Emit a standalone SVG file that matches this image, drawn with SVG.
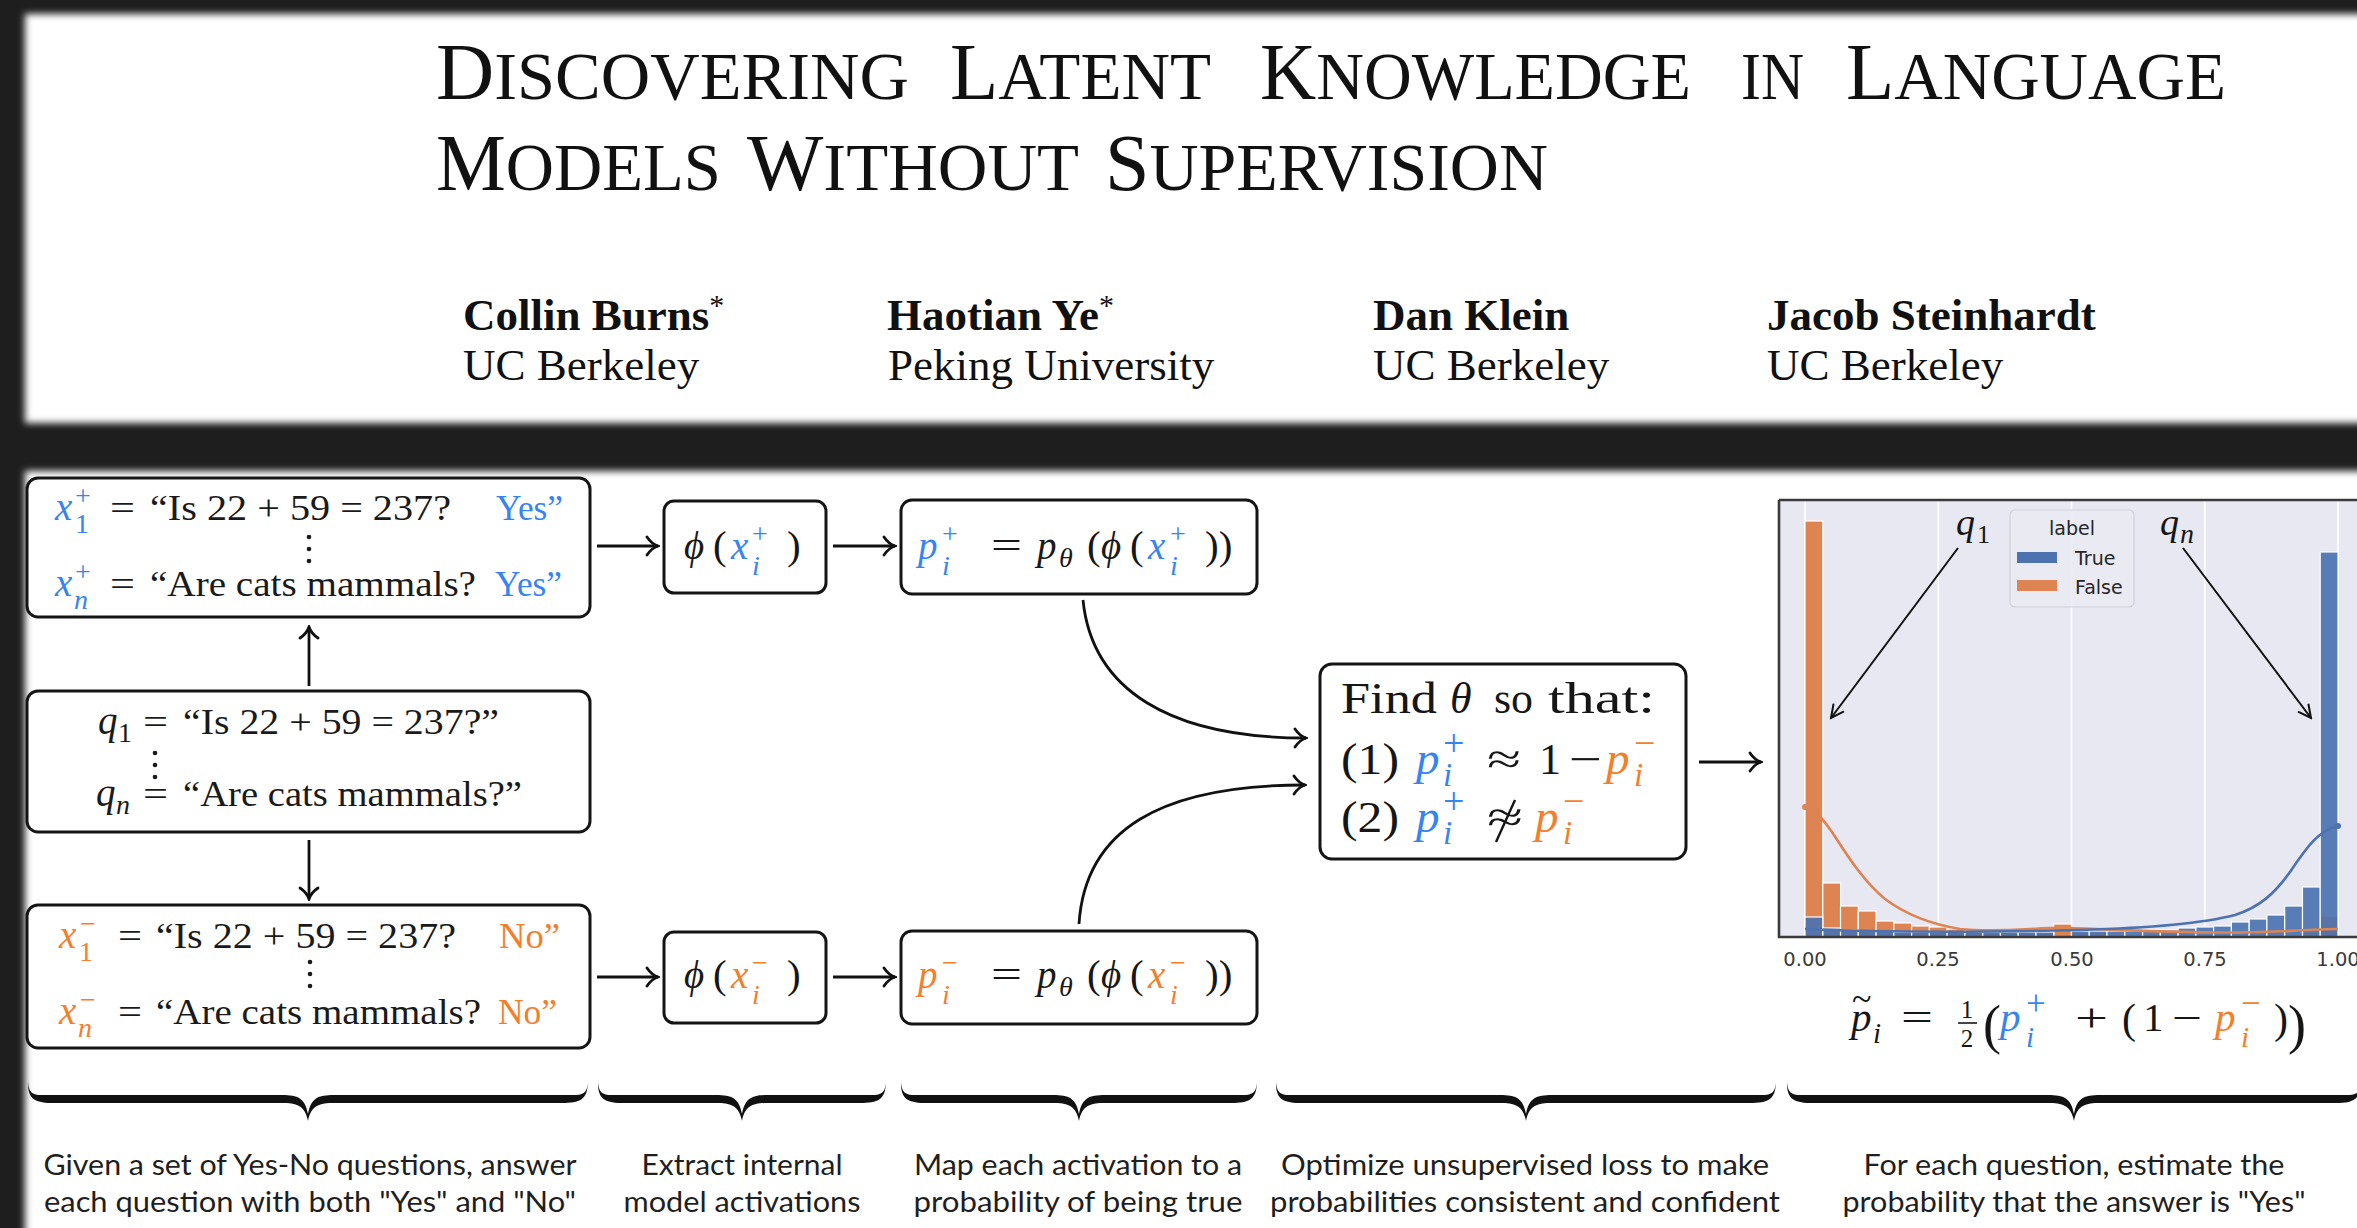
<svg xmlns="http://www.w3.org/2000/svg" width="2357" height="1228" viewBox="0 0 2357 1228">
<defs>
<style>
.ser{font-family:"Liberation Serif","DejaVu Serif",serif;fill:#161616}
.ttl{font-family:"Liberation Serif","DejaVu Serif",serif;fill:#111}
.au{font-family:"Liberation Serif","DejaVu Serif",serif;font-size:45px;fill:#111}
.tx{font-family:"Liberation Serif","DejaVu Serif",serif;font-size:35px;fill:#1a1a1a}
.mv{font-family:"Liberation Serif","DejaVu Serif",serif;font-size:39px;font-style:italic;fill:#1a1a1a}
.sc{font-family:"Liberation Serif","DejaVu Serif",serif;font-size:28px;fill:#1a1a1a}
.sci{font-family:"Liberation Serif","DejaVu Serif",serif;font-size:28px;font-style:italic;fill:#1a1a1a}
.b{fill:#3684f0}
.o{fill:#f57e2a}
.box{fill:#fff;stroke:#151515;stroke-width:3}
.ar{fill:none;stroke:#111;stroke-width:2.8}
.cap{font-family:Lato,"Liberation Sans",sans-serif;font-size:28px;fill:#1f1f1f;text-anchor:middle}
.tick{font-family:"DejaVu Sans",sans-serif;font-size:19.5px;fill:#3a3a3a;text-anchor:middle}
.lg{font-family:"DejaVu Sans",sans-serif;font-size:19px;fill:#262626}
.brace{fill:#111}
.ob{fill:#dd8452;stroke:#fff;stroke-width:1.2}
.bb{fill:#4c72b0;fill-opacity:0.92;stroke:#fff;stroke-width:1.2}
.grid{stroke:#fff;stroke-width:1.6}
.dot{fill:#1a1a1a}
</style>
<filter id="soft" x="-2%" y="-5%" width="104%" height="110%"><feGaussianBlur stdDeviation="3.5"/></filter>
<marker id="ah" viewBox="-14 -11 16 22" refX="0" refY="0" markerWidth="16" markerHeight="22" orient="auto" markerUnits="userSpaceOnUse">
<path d="M-11,-9 C-7,-3 -3,-1 0,0 C-3,1 -7,3 -11,9" fill="none" stroke="#111" stroke-width="2.8" stroke-linecap="round"/>
</marker>
<marker id="ah2" viewBox="-16 -9 18 18" refX="0" refY="0" markerWidth="18" markerHeight="18" orient="auto" markerUnits="userSpaceOnUse">
<path d="M-13,-6.5 L0,0 L-13,6.5" fill="none" stroke="#111" stroke-width="2"/>
</marker>
</defs>

<rect x="0" y="0" width="2357" height="1228" fill="#1e1e1e"/>
<rect x="25" y="14" width="2420" height="409" fill="#fff" filter="url(#soft)"/>
<rect x="25" y="471" width="2420" height="800" fill="#fff" filter="url(#soft)"/>

<g id="title">
<text class="ttl" x="436" y="99" textLength="473" lengthAdjust="spacingAndGlyphs"><tspan font-size="80">D</tspan><tspan font-size="68">ISCOVERING</tspan></text>
<text class="ttl" x="950" y="99" textLength="261" lengthAdjust="spacingAndGlyphs"><tspan font-size="80">L</tspan><tspan font-size="68">ATENT</tspan></text>
<text class="ttl" x="1260" y="99" textLength="431" lengthAdjust="spacingAndGlyphs"><tspan font-size="80">K</tspan><tspan font-size="68">NOWLEDGE</tspan></text>
<text class="ttl" x="1741" y="99" textLength="63" lengthAdjust="spacingAndGlyphs"><tspan font-size="68">IN</tspan></text>
<text class="ttl" x="1846" y="99" textLength="380" lengthAdjust="spacingAndGlyphs"><tspan font-size="80">L</tspan><tspan font-size="68">ANGUAGE</tspan></text>
<text class="ttl" x="436" y="190" textLength="285" lengthAdjust="spacingAndGlyphs"><tspan font-size="80">M</tspan><tspan font-size="68">ODELS</tspan></text>
<text class="ttl" x="747" y="190" textLength="332" lengthAdjust="spacingAndGlyphs"><tspan font-size="80">W</tspan><tspan font-size="68">ITHOUT</tspan></text>
<text class="ttl" x="1105" y="190" textLength="443" lengthAdjust="spacingAndGlyphs"><tspan font-size="80">S</tspan><tspan font-size="68">UPERVISION</tspan></text>
</g>

<g id="authors">
<text class="au" x="463" y="330" font-weight="bold">Collin Burns<tspan font-weight="normal" font-size="30" dy="-15">*</tspan></text>
<text class="au" x="463" y="380">UC Berkeley</text>
<text class="au" x="887" y="330" font-weight="bold">Haotian Ye<tspan font-weight="normal" font-size="30" dy="-15">*</tspan></text>
<text class="au" x="888" y="380">Peking University</text>
<text class="au" x="1373" y="330" font-weight="bold">Dan Klein</text>
<text class="au" x="1373" y="380">UC Berkeley</text>
<text class="au" x="1767" y="330" font-weight="bold">Jacob Steinhardt</text>
<text class="au" x="1767" y="380">UC Berkeley</text>
</g>

<g id="box-pos-prompts">
<rect class="box" x="27" y="478" width="563" height="139" rx="11"/>
<text class="mv b" x="55" y="520">x</text>
<text class="sc b" x="75" y="505">+</text>
<text class="sc b" x="75" y="533">1</text>
<text class="tx" x="110" y="520" textLength="25" lengthAdjust="spacingAndGlyphs">=</text>
<text class="tx" x="150" y="520" textLength="301" lengthAdjust="spacingAndGlyphs">“Is 22 + 59 = 237?</text>
<text class="tx b" x="496" y="520" textLength="67" lengthAdjust="spacingAndGlyphs">Yes”</text>
<circle class="dot" cx="309" cy="537" r="2.3"/><circle class="dot" cx="309" cy="549" r="2.3"/><circle class="dot" cx="309" cy="561" r="2.3"/>
<text class="mv b" x="55" y="596">x</text>
<text class="sc b" x="75" y="581">+</text>
<text class="sci b" x="74" y="609">n</text>
<text class="tx" x="110" y="596" textLength="25" lengthAdjust="spacingAndGlyphs">=</text>
<text class="tx" x="150" y="596" textLength="326" lengthAdjust="spacingAndGlyphs">“Are cats mammals?</text>
<text class="tx b" x="495" y="596" textLength="67" lengthAdjust="spacingAndGlyphs">Yes”</text>
</g>

<g id="box-questions">
<rect class="box" x="27" y="691" width="563" height="141" rx="11"/>
<text class="mv" x="98" y="734">q</text>
<text class="sc" x="118" y="742" font-size="26">1</text>
<text class="tx" x="143" y="734" textLength="25" lengthAdjust="spacingAndGlyphs">=</text>
<text class="tx" x="183" y="734" textLength="316" lengthAdjust="spacingAndGlyphs">“Is 22 + 59 = 237?”</text>
<circle class="dot" cx="155" cy="753" r="2.3"/><circle class="dot" cx="155" cy="765" r="2.3"/><circle class="dot" cx="155" cy="777" r="2.3"/>
<text class="mv" x="96" y="806">q</text>
<text class="sci" x="116" y="814" font-size="26">n</text>
<text class="tx" x="143" y="806" textLength="25" lengthAdjust="spacingAndGlyphs">=</text>
<text class="tx" x="183" y="806" textLength="339" lengthAdjust="spacingAndGlyphs">“Are cats mammals?”</text>
</g>

<g id="box-neg-prompts">
<rect class="box" x="27" y="905" width="563" height="143" rx="11"/>
<text class="mv o" x="59" y="948">x</text>
<text class="sc o" x="80" y="933">−</text>
<text class="sc o" x="79" y="961">1</text>
<text class="tx" x="118" y="948" textLength="24" lengthAdjust="spacingAndGlyphs">=</text>
<text class="tx" x="156" y="948" textLength="300" lengthAdjust="spacingAndGlyphs">“Is 22 + 59 = 237?</text>
<text class="tx o" x="499" y="948" textLength="61" lengthAdjust="spacingAndGlyphs">No”</text>
<circle class="dot" cx="310" cy="962" r="2.3"/><circle class="dot" cx="310" cy="974" r="2.3"/><circle class="dot" cx="310" cy="986" r="2.3"/>
<text class="mv o" x="59" y="1024">x</text>
<text class="sc o" x="80" y="1009">−</text>
<text class="sci o" x="78" y="1037">n</text>
<text class="tx" x="118" y="1024" textLength="24" lengthAdjust="spacingAndGlyphs">=</text>
<text class="tx" x="156" y="1024" textLength="325" lengthAdjust="spacingAndGlyphs">“Are cats mammals?</text>
<text class="tx o" x="498" y="1024" textLength="59" lengthAdjust="spacingAndGlyphs">No”</text>
</g>

<g id="phi-pos">
<rect class="box" x="664" y="501" width="162" height="92" rx="10"/>
<text class="mv" x="684" y="559" font-size="41">ϕ</text>
<text class="ser" x="713" y="559" font-size="41">(</text>
<text class="mv b" x="731" y="559" font-size="41">x</text>
<text class="sc b" x="752" y="543" font-size="34">+</text>
<text class="sci b" x="752" y="575" font-size="30">i</text>
<text class="ser" x="787" y="559" font-size="41">)</text>
</g>

<g id="phi-neg">
<rect class="box" x="664" y="932" width="162" height="91" rx="10"/>
<text class="mv" x="684" y="988" font-size="41">ϕ</text>
<text class="ser" x="713" y="988" font-size="41">(</text>
<text class="mv o" x="731" y="988" font-size="41">x</text>
<text class="sc o" x="752" y="972" font-size="34">−</text>
<text class="sci o" x="752" y="1004" font-size="30">i</text>
<text class="ser" x="787" y="988" font-size="41">)</text>
</g>

<g id="p-pos">
<rect class="box" x="901" y="500" width="356" height="94" rx="11"/>
<text class="mv b" x="918" y="559" font-size="41">p</text>
<text class="sc b" x="942" y="543" font-size="34">+</text>
<text class="sci b" x="942" y="575" font-size="30">i</text>
<text class="ser" x="991" y="559" font-size="39" textLength="31" lengthAdjust="spacingAndGlyphs">=</text>
<text class="mv" x="1037" y="559" font-size="41">p</text>
<text class="sci" x="1059" y="567" font-size="25">θ</text>
<text class="ser" x="1087" y="559" font-size="41">(</text>
<text class="mv" x="1101" y="559" font-size="41">ϕ</text>
<text class="ser" x="1130" y="559" font-size="41">(</text>
<text class="mv b" x="1148" y="559" font-size="41">x</text>
<text class="sc b" x="1170" y="543" font-size="34">+</text>
<text class="sci b" x="1170" y="575" font-size="30">i</text>
<text class="ser" x="1205" y="559" font-size="41">))</text>
</g>

<g id="p-neg">
<rect class="box" x="901" y="931" width="356" height="93" rx="11"/>
<text class="mv o" x="918" y="988" font-size="41">p</text>
<text class="sc o" x="942" y="972" font-size="34">−</text>
<text class="sci o" x="942" y="1004" font-size="30">i</text>
<text class="ser" x="991" y="988" font-size="39" textLength="31" lengthAdjust="spacingAndGlyphs">=</text>
<text class="mv" x="1037" y="988" font-size="41">p</text>
<text class="sci" x="1059" y="996" font-size="25">θ</text>
<text class="ser" x="1087" y="988" font-size="41">(</text>
<text class="mv" x="1101" y="988" font-size="41">ϕ</text>
<text class="ser" x="1130" y="988" font-size="41">(</text>
<text class="mv o" x="1148" y="988" font-size="41">x</text>
<text class="sc o" x="1170" y="972" font-size="34">−</text>
<text class="sci o" x="1170" y="1004" font-size="30">i</text>
<text class="ser" x="1205" y="988" font-size="41">))</text>
</g>

<g id="objective">
<rect class="box" x="1320" y="664" width="366" height="195" rx="12"/>
<text class="ser" x="1341" y="713" font-size="44" textLength="96" lengthAdjust="spacingAndGlyphs">Find</text>
<text class="ser" x="1450" y="713" font-size="44" font-style="italic">θ</text>
<text class="ser" x="1494" y="713" font-size="44" textLength="39" lengthAdjust="spacingAndGlyphs">so</text>
<text class="ser" x="1548" y="713" font-size="44" textLength="107" lengthAdjust="spacingAndGlyphs">that:</text>
<text class="ser" x="1341" y="774" font-size="44" textLength="58" lengthAdjust="spacingAndGlyphs">(1)</text>
<text class="ser b" x="1416" y="774" font-size="47" font-style="italic">p</text>
<text class="ser b" x="1443" y="756" font-size="38">+</text>
<text class="ser b" x="1443" y="786" font-size="33" font-style="italic">i</text>
<text class="ser" x="1487" y="774" font-size="44" textLength="34" lengthAdjust="spacingAndGlyphs">≈</text>
<text class="ser" x="1539" y="774" font-size="44">1</text>
<text class="ser" x="1569" y="774" font-size="44" textLength="33" lengthAdjust="spacingAndGlyphs">−</text>
<text class="ser o" x="1606" y="774" font-size="47" font-style="italic">p</text>
<text class="ser o" x="1634" y="756" font-size="38">−</text>
<text class="ser o" x="1634" y="786" font-size="33" font-style="italic">i</text>
<text class="ser" x="1341" y="832" font-size="44" textLength="58" lengthAdjust="spacingAndGlyphs">(2)</text>
<text class="ser b" x="1416" y="832" font-size="47" font-style="italic">p</text>
<text class="ser b" x="1443" y="814" font-size="38">+</text>
<text class="ser b" x="1443" y="844" font-size="33" font-style="italic">i</text>
<text class="ser" x="1487" y="832" font-size="44" textLength="36" lengthAdjust="spacingAndGlyphs">≈</text>
<line x1="1496" y1="842" x2="1515" y2="800" stroke="#161616" stroke-width="2.4"/>
<text class="ser o" x="1535" y="832" font-size="47" font-style="italic">p</text>
<text class="ser o" x="1563" y="814" font-size="38">−</text>
<text class="ser o" x="1563" y="844" font-size="33" font-style="italic">i</text>
</g>

<g id="chart">
<rect x="1779" y="500" width="600" height="437" fill="#e7e8f1"/>
<line class="grid" x1="1805" y1="501" x2="1805" y2="936"/>
<line class="grid" x1="1938.3" y1="501" x2="1938.3" y2="936"/>
<line class="grid" x1="2071.5" y1="501" x2="2071.5" y2="936"/>
<line class="grid" x1="2204.8" y1="501" x2="2204.8" y2="936"/>
<line class="grid" x1="2338" y1="501" x2="2338" y2="936"/>
<g id="bars-false">
<rect class="ob" x="1805" y="521" width="17.8" height="416"/>
<rect class="ob" x="1822.8" y="883" width="17.8" height="54"/>
<rect class="ob" x="1840.5" y="906" width="17.8" height="31"/>
<rect class="ob" x="1858.3" y="911" width="17.8" height="26"/>
<rect class="ob" x="1876.1" y="921" width="17.8" height="16"/>
<rect class="ob" x="1893.8" y="923" width="17.8" height="14"/>
<rect class="ob" x="1911.6" y="926" width="17.8" height="11"/>
<rect class="ob" x="1929.4" y="927" width="17.8" height="10"/>
<rect class="ob" x="1947.1" y="929" width="17.8" height="8"/>
<rect class="ob" x="1964.9" y="930" width="17.8" height="7"/>
<rect class="ob" x="1982.7" y="931" width="17.8" height="6"/>
<rect class="ob" x="2000.4" y="931" width="17.8" height="6"/>
<rect class="ob" x="2018.2" y="932" width="17.8" height="5"/>
<rect class="ob" x="2036.0" y="932" width="17.8" height="5"/>
<rect class="ob" x="2053.7" y="924" width="17.8" height="13"/>
<rect class="ob" x="2071.5" y="932" width="17.8" height="5"/>
<rect class="ob" x="2089.3" y="932" width="17.8" height="5"/>
<rect class="ob" x="2302.5" y="932" width="17.8" height="5"/>
<rect class="ob" x="2320.2" y="916" width="17.8" height="21"/>
</g>
<g id="bars-true">
<rect class="bb" x="1805" y="917" width="17.8" height="20"/>
<rect class="bb" x="1822.8" y="928" width="17.8" height="9"/>
<rect class="bb" x="1840.5" y="930" width="17.8" height="7"/>
<rect class="bb" x="1858.3" y="931" width="17.8" height="6"/>
<rect class="bb" x="1876.1" y="931" width="17.8" height="6"/>
<rect class="bb" x="1893.8" y="932" width="17.8" height="5"/>
<rect class="bb" x="1911.6" y="932" width="17.8" height="5"/>
<rect class="bb" x="1929.4" y="932" width="17.8" height="5"/>
<rect class="bb" x="1947.1" y="932" width="17.8" height="5"/>
<rect class="bb" x="1964.9" y="932" width="17.8" height="5"/>
<rect class="bb" x="1982.7" y="932" width="17.8" height="5"/>
<rect class="bb" x="2000.4" y="932" width="17.8" height="5"/>
<rect class="bb" x="2018.2" y="932" width="17.8" height="5"/>
<rect class="bb" x="2036.0" y="932" width="17.8" height="5"/>
<rect class="bb" x="2071.5" y="931" width="17.8" height="6"/>
<rect class="bb" x="2089.3" y="931" width="17.8" height="6"/>
<rect class="bb" x="2107.0" y="931" width="17.8" height="6"/>
<rect class="bb" x="2124.8" y="931" width="17.8" height="6"/>
<rect class="bb" x="2142.6" y="930" width="17.8" height="7"/>
<rect class="bb" x="2160.3" y="930" width="17.8" height="7"/>
<rect class="bb" x="2178.1" y="928" width="17.8" height="9"/>
<rect class="bb" x="2195.9" y="927" width="17.8" height="10"/>
<rect class="bb" x="2213.6" y="926" width="17.8" height="11"/>
<rect class="bb" x="2231.4" y="922" width="17.8" height="15"/>
<rect class="bb" x="2249.2" y="919" width="17.8" height="18"/>
<rect class="bb" x="2266.9" y="915" width="17.8" height="22"/>
<rect class="bb" x="2284.7" y="906" width="17.8" height="31"/>
<rect class="bb" x="2302.5" y="887" width="17.8" height="50"/>
<rect class="bb" x="2320.2" y="552" width="17.8" height="385"/>
</g>
<path d="M1805,807 C1815,809 1822,818 1832,832 C1845,852 1862,880 1885,899 C1905,914 1930,924 1960,929 C2000,933 2040,927 2070,928 C2120,930 2200,934 2260,932 C2300,931 2320,929 2338,929" fill="none" stroke="#dd8452" stroke-width="2.6"/>
<path d="M1805,929 C1900,933 2000,932 2080,930 C2150,928 2200,924 2235,915 C2260,907 2275,893 2290,872 C2305,850 2318,830 2338,826" fill="none" stroke="#4c72b0" stroke-width="2.6"/>
<circle cx="1805" cy="807" r="3" fill="#dd8452"/>
<circle cx="2338" cy="826" r="3" fill="#4c72b0"/>
<path d="M1779,500 H2380 M1779,500 V937 H2380" fill="none" stroke="#3a3a3a" stroke-width="2.6"/>
<g id="legend">
<rect x="2010" y="510" width="124" height="97" rx="5" fill="#eaeaf2" fill-opacity="0.85" stroke="#cfd0d8" stroke-width="1.2"/>
<text class="lg" x="2072" y="535" text-anchor="middle">label</text>
<rect x="2017" y="552" width="40" height="11" fill="#4c72b0"/>
<text class="lg" x="2075" y="565">True</text>
<rect x="2017" y="580" width="40" height="11" fill="#dd8452"/>
<text class="lg" x="2075" y="594">False</text>
</g>
<text class="ser" x="1956" y="535" font-size="38" font-style="italic">q</text>
<text class="ser" x="1977" y="543" font-size="26">1</text>
<text class="ser" x="2160" y="535" font-size="38" font-style="italic">q</text>
<text class="ser" x="2180" y="543" font-size="28" font-style="italic">n</text>
<line x1="1958" y1="548" x2="1831" y2="718" stroke="#111" stroke-width="2" marker-end="url(#ah2)"/>
<line x1="2183" y1="548" x2="2311" y2="718" stroke="#111" stroke-width="2" marker-end="url(#ah2)"/>
<text class="tick" x="1805" y="966">0.00</text>
<text class="tick" x="1938" y="966">0.25</text>
<text class="tick" x="2072" y="966">0.50</text>
<text class="tick" x="2205" y="966">0.75</text>
<text class="tick" x="2338" y="966">1.00</text>
</g>

<g id="formula">
<text class="ser" x="1851" y="1031" font-size="41" font-style="italic">p</text>
<text class="ser" x="1852" y="1011" font-size="36">~</text>
<text class="ser" x="1873" y="1043" font-size="29" font-style="italic">i</text>
<text class="ser" x="1901" y="1031" font-size="39" textLength="32" lengthAdjust="spacingAndGlyphs">=</text>
<text class="ser" x="1967" y="1018" font-size="25" text-anchor="middle">1</text>
<line x1="1958" y1="1023" x2="1977" y2="1023" stroke="#161616" stroke-width="1.6"/>
<text class="ser" x="1967" y="1047" font-size="25" text-anchor="middle">2</text>
<text class="ser" x="1983" y="1043" font-size="54">(</text>
<text class="ser b" x="2000" y="1031" font-size="41" font-style="italic">p</text>
<text class="ser b" x="2026" y="1015" font-size="35">+</text>
<text class="ser b" x="2026" y="1047" font-size="29" font-style="italic">i</text>
<text class="ser" x="2075" y="1031" font-size="39" textLength="33" lengthAdjust="spacingAndGlyphs">+</text>
<text class="ser" x="2122" y="1033" font-size="42">(</text>
<text class="ser" x="2143" y="1031" font-size="41">1</text>
<text class="ser" x="2172" y="1031" font-size="39" textLength="30" lengthAdjust="spacingAndGlyphs">−</text>
<text class="ser o" x="2215" y="1031" font-size="41" font-style="italic">p</text>
<text class="ser o" x="2241" y="1015" font-size="35">−</text>
<text class="ser o" x="2241" y="1047" font-size="29" font-style="italic">i</text>
<text class="ser" x="2274" y="1033" font-size="42">)</text>
<text class="ser" x="2288" y="1043" font-size="54">)</text>
</g>

<g id="connectors">
<line class="ar" x1="597" y1="546" x2="658" y2="546" marker-end="url(#ah)"/>
<line class="ar" x1="833" y1="546" x2="895" y2="546" marker-end="url(#ah)"/>
<line class="ar" x1="597" y1="977" x2="658" y2="977" marker-end="url(#ah)"/>
<line class="ar" x1="833" y1="977" x2="895" y2="977" marker-end="url(#ah)"/>
<line class="ar" x1="309" y1="686" x2="309" y2="627" marker-end="url(#ah)"/>
<line class="ar" x1="309" y1="840" x2="309" y2="899" marker-end="url(#ah)"/>
<path class="ar" d="M1083,600 C1092,690 1170,738 1306,738" marker-end="url(#ah)"/>
<path class="ar" d="M1079,924 C1085,830 1160,785 1305,785" marker-end="url(#ah)"/>
<line class="ar" x1="1699" y1="762" x2="1761" y2="762" marker-end="url(#ah)"/>
</g>

<g id="braces">
<path class="brace" d="M28,1082 C29,1097 36,1095 54,1095 L282,1095 C298,1095 305,1098 308,1114 C311,1098 318,1095 334,1095 L562,1095 C580,1095 587,1097 588,1082 C587.5,1100 580,1103 562,1103 L334,1103 C320,1103 311,1105 308,1121 C305,1105 296,1103 282,1103 L54,1103 C36,1103 27.5,1100 28,1082 Z"/>
<path class="brace" d="M598,1082 C599,1097 606,1095 624,1095 L716,1095 C732,1095 739,1098 742,1114 C745,1098 752,1095 768,1095 L860,1095 C878,1095 885,1097 886,1082 C885.5,1100 878,1103 860,1103 L768,1103 C754,1103 745,1105 742,1121 C739,1105 730,1103 716,1103 L624,1103 C606,1103 597.5,1100 598,1082 Z"/>
<path class="brace" d="M901,1082 C902,1097 909,1095 927,1095 L1053,1095 C1069,1095 1076,1098 1079,1114 C1082,1098 1089,1095 1105,1095 L1231,1095 C1249,1095 1256,1097 1257,1082 C1256.5,1100 1249,1103 1231,1103 L1105,1103 C1091,1103 1082,1105 1079,1121 C1076,1105 1067,1103 1053,1103 L927,1103 C909,1103 900.5,1100 901,1082 Z"/>
<path class="brace" d="M1276,1082 C1277,1097 1284,1095 1302,1095 L1500,1095 C1516,1095 1523,1098 1526,1114 C1529,1098 1536,1095 1552,1095 L1750,1095 C1768,1095 1775,1097 1776,1082 C1775.5,1100 1768,1103 1750,1103 L1552,1103 C1538,1103 1529,1105 1526,1121 C1523,1105 1514,1103 1500,1103 L1302,1103 C1284,1103 1275.5,1100 1276,1082 Z"/>
<path class="brace" d="M1787,1082 C1788,1097 1795,1095 1813,1095 L2048,1095 C2064,1095 2071,1098 2074,1114 C2077,1098 2084,1095 2100,1095 L2335,1095 C2353,1095 2360,1097 2361,1082 C2360.5,1100 2353,1103 2335,1103 L2100,1103 C2086,1103 2077,1105 2074,1121 C2071,1105 2062,1103 2048,1103 L1813,1103 C1795,1103 1786.5,1100 1787,1082 Z"/>
</g>

<g id="captions">
<text class="cap" x="310" y="1175" textLength="533" lengthAdjust="spacingAndGlyphs">Given a set of Yes-No questions, answer</text>
<text class="cap" x="310" y="1212" textLength="532" lengthAdjust="spacingAndGlyphs">each question with both "Yes" and "No"</text>
<text class="cap" x="742" y="1175" textLength="201" lengthAdjust="spacingAndGlyphs">Extract internal</text>
<text class="cap" x="742" y="1212" textLength="237" lengthAdjust="spacingAndGlyphs">model activations</text>
<text class="cap" x="1078" y="1175" textLength="328" lengthAdjust="spacingAndGlyphs">Map each activation to a</text>
<text class="cap" x="1078" y="1212" textLength="329" lengthAdjust="spacingAndGlyphs">probability of being true</text>
<text class="cap" x="1525" y="1175" textLength="488" lengthAdjust="spacingAndGlyphs">Optimize unsupervised loss to make</text>
<text class="cap" x="1525" y="1212" textLength="510" lengthAdjust="spacingAndGlyphs">probabilities consistent and confident</text>
<text class="cap" x="2074" y="1175" textLength="421" lengthAdjust="spacingAndGlyphs">For each question, estimate the</text>
<text class="cap" x="2074" y="1212" textLength="463" lengthAdjust="spacingAndGlyphs">probability that the answer is "Yes"</text>
</g>
</svg>
